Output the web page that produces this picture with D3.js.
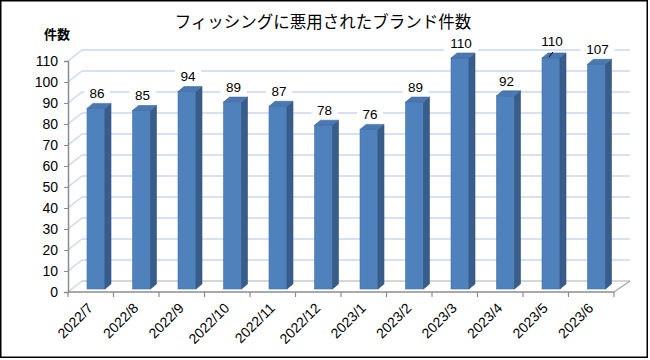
<!DOCTYPE html>
<html>
<head>
<meta charset="utf-8">
<script src="https://cdn.jsdelivr.net/npm/d3@7"></script>
<style>
  body { margin: 0; background: #fff; }
  svg { display: block; font-family: "Liberation Sans", "Noto Sans CJK JP", sans-serif; }
</style>
</head>
<body>
<svg id="chart" width="650" height="360"></svg>
<script>
// data
const months = ['2022/7', '2022/8', '2022/9', '2022/10', '2022/11', '2022/12',
                '2023/1', '2023/2', '2023/3', '2023/4', '2023/5', '2023/6'];
const counts = [86, 85, 94, 89, 87, 78, 76, 89, 110, 92, 110, 107];
const yTicks = d3.range(0, 111, 10);
const title = 'フィッシングに悪用されたブランド件数';
const yTitle = '件数';

const svg = d3.select('#chart');
const left = 68, right = 614, base = 292;
const depthX = 14, depthY = -11;   // fake 3d offset of the back wall

const x = d3.scaleBand().domain(months).range([left, right]);
const y = d3.scaleLinear().domain([0, 110]).range([base, base - 231]);

svg.append('rect').attr('x', 0.75).attr('y', 0.75).attr('width', 646.5).attr('height', 356.5)
  .attr('fill', '#fff').attr('stroke', '#000').attr('stroke-width', 1.5);

svg.append('text').attr('x', 323).attr('y', 28).attr('text-anchor', 'middle')
  .attr('font-family', '"Noto Sans CJK JP", sans-serif').attr('font-size', 16.5).text(title);
svg.append('text').attr('x', 57).attr('y', 39).attr('text-anchor', 'middle')
  .attr('font-family', '"Noto Sans CJK JP", sans-serif').attr('font-weight', 'bold').attr('font-size', 13).text(yTitle);

// back wall grid + side wall diagonals
const grid = svg.append('g');
yTicks.forEach(v => {
  const yy = y(v);
  grid.append('line').attr('x1', left + depthX).attr('x2', right + depthX + 2)
    .attr('y1', yy + depthY).attr('y2', yy + depthY)
    .attr('stroke', v === 0 ? '#c8c8c8' : '#c6d9f1').attr('stroke-width', 1.5);
  grid.append('line').attr('x1', left).attr('y1', yy).attr('x2', left + depthX).attr('y2', yy + depthY)
    .attr('stroke', '#c6d9f1').attr('stroke-width', 1.5);
});

// floor
const floor = svg.append('g').attr('fill', 'none');
floor.append('line').attr('x1', left).attr('x2', right).attr('y1', base).attr('y2', base)
  .attr('stroke', '#8c8c8c').attr('stroke-width', 1.5);
floor.append('line').attr('x1', right).attr('y1', base).attr('x2', right + depthX + 2).attr('y2', base + depthY)
  .attr('stroke', '#a6a6a6').attr('stroke-width', 1.2);

// y axis
const yAxis = svg.append('g').attr('transform', `translate(${left},0)`)
  .call(d3.axisLeft(y).tickValues(yTicks).tickSize(4).tickPadding(6));
yAxis.select('.domain').attr('stroke', '#8c8c8c').attr('stroke-width', 1.5);
yAxis.selectAll('.tick line').attr('stroke', '#8c8c8c');
yAxis.selectAll('.tick text').attr('font-size', 14).attr('fill', '#000')
  .attr('font-family', '"Liberation Sans", sans-serif');

// x axis ticks at band edges
const xTickPos = months.map(m => x(m)).concat([right]);
svg.append('g').selectAll('line').data(xTickPos).join('line')
  .attr('x1', d => d).attr('x2', d => d).attr('y1', base).attr('y2', base + 5)
  .attr('stroke', '#8c8c8c').attr('stroke-width', 1.2);

svg.append('g').selectAll('text').data(months).join('text')
  .attr('transform', d => `translate(${x(d) + x.bandwidth() / 2 + 3},${base + 17}) rotate(-45)`)
  .attr('text-anchor', 'end').attr('font-size', 14).attr('fill', '#000')
  .text(d => d);

// 3d bars
const barBase = base - 3;
const yb = v => barBase - (base - y(v));
const off = 19, bw = 18, sdx = 6, sdy = -5;
const bars = svg.append('g').selectAll('g').data(months.map((m, i) => ({ m, v: counts[i] }))).join('g');
bars.append('rect')
  .attr('x', d => x(d.m) + off).attr('y', d => yb(d.v))
  .attr('width', bw).attr('height', d => barBase - yb(d.v))
  .attr('fill', '#4f81bd').attr('stroke', '#4674ab').attr('stroke-width', 0.6);
bars.append('polygon')
  .attr('points', d => {
    const x1 = x(d.m) + off + bw, t = yb(d.v);
    return [[x1, t], [x1 + sdx, t + sdy], [x1 + sdx, barBase + sdy], [x1, barBase]].join(' ');
  })
  .attr('fill', '#385d8a').attr('stroke', '#34557f').attr('stroke-width', 0.6);
bars.append('polygon')
  .attr('points', d => {
    const x0 = x(d.m) + off, t = yb(d.v);
    return [[x0, t], [x0 + sdx, t + sdy], [x0 + bw + sdx, t + sdy], [x0 + bw, t]].join(' ');
  })
  .attr('fill', '#4a78b0').attr('stroke', '#3f6a9e').attr('stroke-width', 0.6);

// value labels on white boxes
const labels = svg.append('g').selectAll('g').data(months.map((m, i) => ({ m, v: counts[i], i }))).join('g')
  .attr('transform', d => {
    const cx = x(d.m) + off + bw / 2 + 1;
    const cy = yb(d.v) - 15 - (d.i === 10 ? 2 : 0);
    return `translate(${cx},${cy})`;
  });
labels.append('rect').attr('x', d => -String(d.v).length * 4 - 5).attr('y', -8)
  .attr('width', d => String(d.v).length * 8 + 10).attr('height', 16).attr('fill', '#fff');
labels.append('text').attr('text-anchor', 'middle').attr('dy', '0.35em')
  .attr('font-size', 13.5).attr('fill', '#000').text(d => d.v);

// leader line on 2023/5
const lead = x(months[10]) + off + bw / 2;
svg.append('line').attr('x1', lead - 2).attr('y1', yb(counts[10]) - 1)
  .attr('x2', lead + 2).attr('y2', yb(counts[10]) - 6)
  .attr('stroke', '#000').attr('stroke-width', 1);
</script>
</body>
</html>
